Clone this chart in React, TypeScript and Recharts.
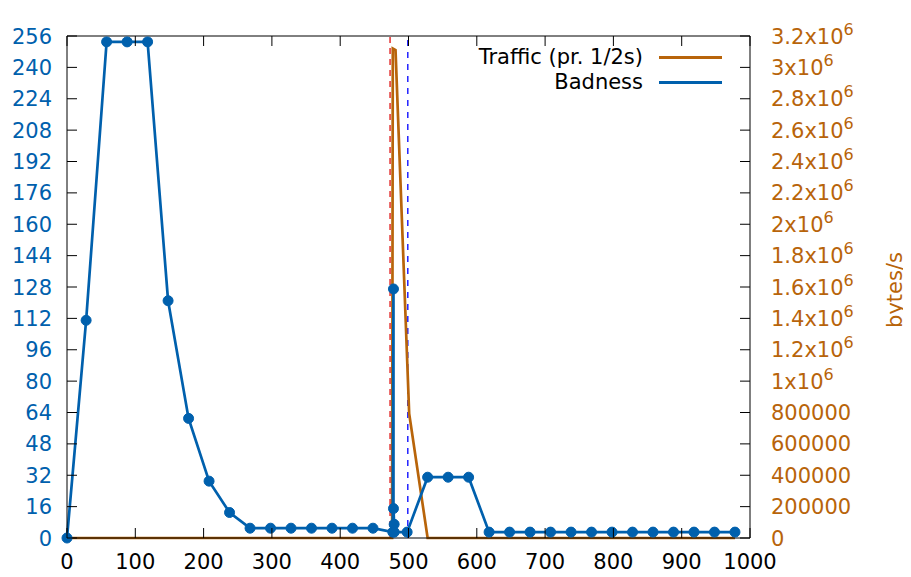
import { LineChart, Line, XAxis, YAxis, ReferenceLine } from "recharts";

const BLUE = "#0060ad";
const ORANGE = "#b8640a";
const FONT = "'DejaVu Sans', sans-serif";

// plot box in page pixels
const LEFT = 67;
const RIGHT = 750;
const TOP = 36;
const BOTTOM = 538;

const xTicks = [0, 100, 200, 300, 400, 500, 600, 700, 800, 900, 1000];
const badnessTicks = [0, 16, 32, 48, 64, 80, 96, 112, 128, 144, 160, 176, 192, 208, 224, 240, 256];
const trafficTicks = [
  0, 200000, 400000, 600000, 800000, 1000000, 1200000, 1400000, 1600000, 1800000,
  2000000, 2200000, 2400000, 2600000, 2800000, 3000000, 3200000,
];

const badnessX = [
  0, 28, 58, 88, 118, 148, 178, 208, 238, 268, 298, 328, 358, 388, 418, 448,
  477, 478, 478, 479, 479, 498, 528, 558, 588, 618, 648, 678, 708, 738, 768,
  798, 828, 858, 888, 918, 948, 978,
];
const badnessY = [
  0, 111, 253, 253, 253, 121, 61, 29, 13, 5, 5, 5, 5, 5, 5, 5,
  3, 127, 15, 7, 3, 3, 31, 31, 31, 3, 3, 3, 3, 3, 3,
  3, 3, 3, 3, 3, 3, 3,
];

const trafficX = [0, 476, 477, 481, 501, 528, 978];
const trafficY = [0, 0, 3120000, 3110000, 793000, 0, 0];

const attackStart = 473;
const attackEnd = 499;

const badness = badnessX.map((x, i) => ({ x, badness: badnessY[i] }));
const traffic = trafficX.map((x, i) => ({ x, traffic: trafficY[i] }));

function BottomTick({ x, payload }: any) {
  return (
    <g>
      <line x1={x} x2={x} y1={BOTTOM} y2={BOTTOM - 10} stroke="#000" />
      <line x1={x} x2={x} y1={TOP} y2={TOP + 10} stroke="#000" />
      <text x={x} y={569} textAnchor="middle" fill="#000" fontSize={21} fontFamily={FONT}>
        {payload.value}
      </text>
    </g>
  );
}

function LeftTick({ y, payload }: any) {
  return (
    <g>
      <line x1={LEFT} x2={LEFT + 10} y1={y} y2={y} stroke="#000" />
      <text x={52} y={y + 7.5} textAnchor="end" fill={BLUE} fontSize={21} fontFamily={FONT}>
        {payload.value}
      </text>
    </g>
  );
}

function RightTick({ y, payload }: any) {
  const v = payload.value as number;
  let label: any = String(v);
  if (v >= 1000000) {
    const m = v / 1000000;
    label = (
      <>
        <tspan>{`${m}x10`}</tspan>
        <tspan dy={-9} fontSize={16}>6</tspan>
      </>
    );
  }
  return (
    <g>
      <line x1={RIGHT - 10} x2={RIGHT} y1={y} y2={y} stroke="#000" />
      <text x={771} y={y + 7.5} textAnchor="start" fill={ORANGE} fontSize={21} fontFamily={FONT}>
        {label}
      </text>
    </g>
  );
}

function BytesLabel() {
  return (
    <text
      x={902}
      y={290}
      transform="rotate(-90 902 290)"
      textAnchor="middle"
      fill={ORANGE}
      fontSize={21}
      fontFamily={FONT}
    >
      bytes/s
    </text>
  );
}

export default function App() {
  return (
    <div style={{ position: "relative", width: 911, height: 577, margin: -8, background: "#fff" }}>
      <LineChart width={911} height={577} margin={{ top: TOP, right: 0, bottom: 0, left: 0 }}>
        <XAxis
          type="number"
          dataKey="x"
          domain={[0, 1000]}
          ticks={xTicks}
          height={577 - BOTTOM}
          axisLine={{ stroke: "#000" }}
          tickLine={false}
          tick={<BottomTick />}
          interval={0}
        />
        <YAxis
          yAxisId="left"
          domain={[0, 256]}
          ticks={badnessTicks}
          width={LEFT}
          axisLine={{ stroke: "#000" }}
          tickLine={false}
          tick={<LeftTick />}
          interval={0}
        />
        <YAxis
          yAxisId="right"
          orientation="right"
          domain={[0, 3200000]}
          ticks={trafficTicks}
          width={911 - RIGHT}
          axisLine={{ stroke: "#000" }}
          tickLine={false}
          tick={<RightTick />}
          interval={0}
          label={<BytesLabel />}
        />
        <ReferenceLine yAxisId="left" y={256} stroke="#000" />
        <ReferenceLine yAxisId="left" x={attackStart} stroke="#e01010" strokeWidth={1.3} strokeDasharray="6 5" />
        <ReferenceLine yAxisId="left" x={attackEnd} stroke="#0000ff" strokeWidth={1.3} strokeDasharray="6 6" />
        <Line
          yAxisId="right"
          data={traffic}
          dataKey="traffic"
          type="linear"
          stroke={ORANGE}
          strokeWidth={2.7}
          dot={false}
          isAnimationActive={false}
        />
        <Line
          yAxisId="left"
          data={badness}
          dataKey="badness"
          type="linear"
          stroke={BLUE}
          strokeWidth={2.7}
          dot={{ r: 5, fill: BLUE, stroke: BLUE, strokeWidth: 1 }}
          isAnimationActive={false}
        />
      </LineChart>
      <div
        style={{
          position: "absolute",
          top: 45,
          left: 440,
          width: 290,
          fontFamily: FONT,
          fontSize: 21,
          lineHeight: "25px",
          color: "#000",
        }}
      >
        {[
          { name: "Traffic (pr. 1/2s)", color: ORANGE },
          { name: "Badness", color: BLUE },
        ].map((item) => (
          <div key={item.name} style={{ display: "flex", alignItems: "center", height: 25 }}>
            <span style={{ width: 203, textAlign: "right", whiteSpace: "nowrap" }}>{item.name}</span>
            <span
              style={{
                display: "inline-block",
                marginLeft: 16,
                width: 63,
                height: 3,
                background: item.color,
              }}
            />
          </div>
        ))}
      </div>
    </div>
  );
}
